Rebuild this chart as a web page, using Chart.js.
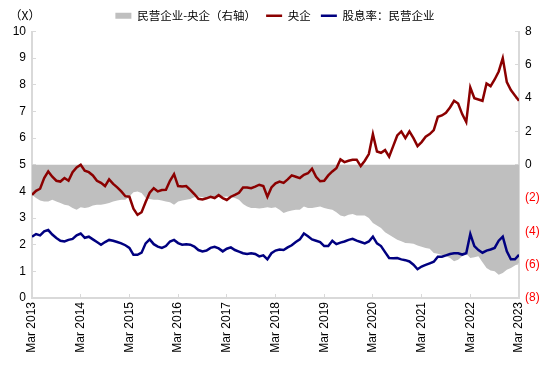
<!DOCTYPE html>
<html>
<head>
<meta charset="utf-8">
<script src="https://cdn.jsdelivr.net/npm/chart.js@4.4.0/dist/chart.umd.min.js"></script>
<style>
    html, body { margin: 0; padding: 0; background: #fff; }
</style>
</head>
<body>
<canvas id="divChart" width="550" height="365"></canvas>
<script>
// monthly points, Mar 2013 .. Mar 2023 (121 months)
var yearTicks = ['Mar 2013', 'Mar 2014', 'Mar 2015', 'Mar 2016', 'Mar 2017', 'Mar 2018',
                 'Mar 2019', 'Mar 2020', 'Mar 2021', 'Mar 2022', 'Mar 2023'];

// 央企 dividend yield (left axis, X)
var soeYield = [
    3.87, 4.02, 4.10, 4.50, 4.75, 4.55, 4.40, 4.37, 4.50, 4.40, 4.72, 4.90,
    5.00, 4.78, 4.72, 4.60, 4.40, 4.32, 4.20, 4.45, 4.28, 4.15, 4.00, 3.82,
    3.80, 3.35, 3.12, 3.22, 3.60, 3.95, 4.12, 4.00, 4.05, 4.06, 4.40, 4.65,
    4.20, 4.18, 4.20, 4.06, 3.90, 3.72, 3.70, 3.74, 3.80, 3.75, 3.86, 3.75,
    3.68, 3.80, 3.87, 3.95, 4.15, 4.15, 4.12, 4.18, 4.25, 4.20, 3.80, 4.15,
    4.30, 4.37, 4.32, 4.45, 4.60, 4.55, 4.50, 4.62, 4.68, 4.85, 4.55, 4.38,
    4.40, 4.60, 4.75, 4.87, 5.20, 5.10, 5.15, 5.19, 5.19, 4.95, 5.15, 5.40,
    6.15, 5.50, 5.45, 5.55, 5.30, 5.70, 6.10, 6.25, 6.00, 6.25, 6.00, 5.70,
    5.85, 6.05, 6.15, 6.30, 6.80, 6.85, 6.95, 7.15, 7.40, 7.30, 6.90, 6.60,
    7.90, 7.50, 7.45, 7.40, 8.05, 7.95, 8.20, 8.50, 9.00, 8.10, 7.80, 7.60,
    7.40
];

// 股息率：民营企业 (left axis, X)
var privYield = [
    2.30, 2.40, 2.35, 2.50, 2.55, 2.38, 2.25, 2.15, 2.12, 2.18, 2.22, 2.35,
    2.42, 2.26, 2.30, 2.20, 2.10, 2.00, 2.10, 2.18, 2.15, 2.10, 2.05, 1.98,
    1.88, 1.62, 1.62, 1.70, 2.05, 2.20, 2.02, 1.93, 1.88, 1.95, 2.12, 2.18,
    2.06, 2.00, 2.02, 2.00, 1.93, 1.80, 1.75, 1.78, 1.88, 1.92, 1.86, 1.75,
    1.85, 1.90, 1.80, 1.74, 1.68, 1.65, 1.68, 1.65, 1.56, 1.60, 1.45, 1.68,
    1.78, 1.82, 1.80, 1.90, 1.98, 2.10, 2.20, 2.42, 2.32, 2.20, 2.15, 2.10,
    1.95, 1.95, 2.15, 2.02, 2.08, 2.12, 2.18, 2.22, 2.15, 2.10, 2.05, 2.12,
    2.30, 2.05, 1.95, 1.72, 1.50, 1.49, 1.50, 1.45, 1.42, 1.37, 1.25, 1.08,
    1.18, 1.24, 1.30, 1.36, 1.55, 1.55, 1.60, 1.65, 1.68, 1.68, 1.63, 1.68,
    2.40, 1.95, 1.80, 1.70, 1.78, 1.82, 1.88, 2.15, 2.30, 1.75, 1.45, 1.45,
    1.62
];

// 民营企业-央企 (right axis)
var spread = [
    -1.80, -2.00, -2.15, -2.20, -2.20, -2.10, -2.20, -2.30, -2.40, -2.45, -2.60, -2.70,
    -2.55, -2.60, -2.55, -2.45, -2.40, -2.40, -2.35, -2.30, -2.20, -2.15, -2.10, -2.10,
    -1.90, -1.65, -1.60, -1.70, -2.00, -2.05, -2.10, -2.10, -2.15, -2.20, -2.25, -2.40,
    -2.20, -2.15, -2.10, -2.05, -1.95, -1.90, -1.95, -2.00, -1.95, -1.92, -1.90, -1.92,
    -1.90, -1.95, -2.00, -2.10, -2.35, -2.50, -2.60, -2.60, -2.62, -2.60, -2.55, -2.60,
    -2.55, -2.70, -2.90, -2.80, -2.75, -2.70, -2.70, -2.50, -2.60, -2.60, -2.55, -2.50,
    -2.60, -2.65, -2.70, -2.85, -3.05, -3.10, -3.00, -2.95, -3.05, -3.05, -3.05, -3.20,
    -3.50, -3.65, -3.80, -4.05, -4.20, -4.35, -4.50, -4.60, -4.70, -4.72, -4.75, -4.85,
    -4.92, -5.00, -5.05, -5.30, -5.35, -5.42, -5.50, -5.60, -5.80, -5.70, -5.50, -5.35,
    -5.60, -5.55, -5.50, -5.85, -6.20, -6.35, -6.40, -6.60, -6.50, -6.30, -6.20, -6.05,
    -5.90
];

function toPoints(values) {
    return values.map(function (v, i) { return { x: i, y: v }; });
}

var tickFont = { family: '"Liberation Sans", Arial, sans-serif', size: 12 };
var axisGray = '#D9D9D9';

// "(X)" unit label above the left axis
var unitLabel = {
    id: 'unitLabel',
    afterDraw: function (chart) {
        var ctx = chart.ctx;
        ctx.save();
        ctx.font = '12px "Noto Sans CJK SC"';
        ctx.fillStyle = '#000';
        ctx.textAlign = 'center';
        ctx.textBaseline = 'middle';
        ctx.fillText('（X）', chart.chartArea.left - 7, chart.chartArea.top - 16);
        ctx.restore();
    }
};

var ctx = document.getElementById('divChart').getContext('2d');
var divChart = new Chart(ctx, {
    type: 'line',
    data: {
        datasets: [{
            label: '民营企业-央企（右轴）',
            data: toPoints(spread),
            yAxisID: 'y1',
            fill: 'origin',
            backgroundColor: '#BFBFBF',
            borderColor: '#BFBFBF',
            borderWidth: 0,
            pointRadius: 0,
            pointStyle: 'rect',
            order: 3
        }, {
            label: '央企',
            data: toPoints(soeYield),
            yAxisID: 'y',
            borderColor: '#8B0000',
            backgroundColor: '#8B0000',
            borderWidth: 2.5,
            pointRadius: 0,
            pointStyle: 'line',
            fill: false,
            order: 1
        }, {
            label: '股息率：民营企业',
            data: toPoints(privYield),
            yAxisID: 'y',
            borderColor: '#000080',
            backgroundColor: '#000080',
            borderWidth: 2.5,
            pointRadius: 0,
            pointStyle: 'line',
            fill: false,
            order: 2
        }]
    },
    options: {
        responsive: false,
        animation: false,
        devicePixelRatio: 1,
        layout: { padding: 0 },
        plugins: {
            legend: {
                position: 'top',
                labels: {
                    usePointStyle: true,
                    pointStyleWidth: 16,
                    boxHeight: 6,
                    padding: 10,
                    color: '#000',
                    font: { family: '"Noto Sans CJK SC"', size: 11.5 },
                    sort: function (a, b) { return a.datasetIndex - b.datasetIndex; }
                }
            },
            tooltip: { enabled: false },
            filler: { drawTime: 'beforeDatasetsDraw' }
        },
        scales: {
            x: {
                type: 'linear',
                min: 0,
                max: 120,
                afterFit: function (scale) { scale.height = 67; },
                ticks: {
                    stepSize: 12,
                    minRotation: 90,
                    maxRotation: 90,
                    padding: 8,
                    color: '#000',
                    font: tickFont,
                    callback: function (value) { return yearTicks[value / 12]; }
                },
                grid: { drawOnChartArea: false, tickLength: -4, color: axisGray },
                border: { color: axisGray, width: 2 }
            },
            y: {
                position: 'left',
                min: 0,
                max: 10,
                afterFit: function (scale) { scale.width = 32; },
                ticks: { stepSize: 1, padding: 10, color: '#000', font: tickFont },
                grid: { drawOnChartArea: false, tickLength: -4, color: axisGray },
                border: { color: axisGray, width: 2 }
            },
            y1: {
                position: 'right',
                min: -8,
                max: 8,
                afterFit: function (scale) { scale.width = 31; },
                ticks: {
                    stepSize: 2,
                    padding: 10,
                    font: tickFont,
                    color: function (c) { return c.tick.value < 0 ? '#FF0000' : '#000'; },
                    callback: function (value) { return value < 0 ? '(' + (-value) + ')' : value; }
                },
                grid: { drawOnChartArea: false, tickLength: -4, color: axisGray },
                border: { color: axisGray, width: 2 }
            }
        }
    },
    plugins: [unitLabel]
});
</script>
</body>
</html>
